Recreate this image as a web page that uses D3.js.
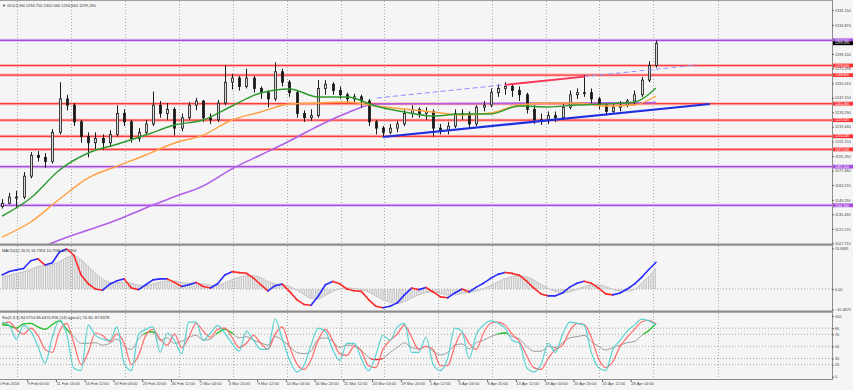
<!DOCTYPE html>
<html>
<head>
<meta charset="utf-8">
<script src="https://cdn.jsdelivr.net/npm/d3@7/dist/d3.min.js"></script>
<style>
body { margin: 0; background: #f5f5f5; }
svg { display: block; font-family: "Liberation Sans", Arial, sans-serif; }
</style>
</head>
<body>
<svg id="chart" width="853" height="390"></svg>
<script>
// GOLD H4 - candles aggregated 4 bars per candle
var firstOpen = 1143;
var closes = [1146,1152,1152,1172,1192,1190,1186,1214,1246,1240,
  1224,1210,1204,1208,1204,1212,1232,1224,1208,1214,
  1222,1240,1232,1236,1218,1228,1240,1244,1228,1226,
  1242,1262,1266,1258,1266,1256,1252,1246,1272,1262,
  1252,1232,1228,1230,1256,1260,1254,1250,1246,1248,
  1244,1224,1218,1214,1218,1222,1232,1236,1232,1234,
  1218,1216,1220,1232,1232,1222,1238,1240,1252,1256,
  1258,1254,1250,1236,1226,1225,1230,1228,1238,1250,
  1252,1252,1246,1240,1234,1238,1240,1244,1250,1264,
  1278,1299.29];
var highs = [1150,1156,1158,1176,1195,1196,1194,1217,1262,1250,
  1242,1226,1214,1214,1212,1216,1240,1236,1226,1218,
  1226,1253,1244,1242,1238,1232,1243,1247,1245,1232,
  1245,1278,1270,1268,1275,1268,1258,1254,1281,1275,
  1264,1254,1235,1236,1264,1264,1262,1258,1252,1251,
  1250,1246,1226,1220,1222,1225,1236,1240,1238,1238,
  1236,1222,1224,1236,1236,1234,1240,1244,1256,1260,
  1262,1260,1258,1252,1240,1232,1234,1234,1241,1254,
  1256,1269,1256,1248,1242,1242,1244,1246,1254,1267,
  1282,1302.06];
var lows = [1141,1145,1142,1150,1170,1186,1180,1184,1212,1235,
  1220,1204,1190,1198,1197,1200,1210,1220,1204,1205,
  1212,1220,1228,1226,1211,1215,1226,1235,1224,1222,
  1224,1240,1255,1254,1256,1252,1246,1238,1244,1258,
  1248,1228,1224,1225,1228,1250,1250,1246,1242,1242,
  1238,1220,1212,1209,1212,1214,1220,1228,1228,1226,
  1210,1212,1212,1218,1226,1218,1220,1234,1238,1248,
  1250,1248,1244,1232,1222,1221,1222,1224,1226,1236,
  1246,1248,1242,1236,1230,1232,1234,1238,1240,1248,
  1262,1276];

// moving averages sampled every 4th candle
var maIdx = [0,4,8,12,16,20,24,28,32,36,40,44,48,52,56,60,64,68,72,76,80,84,88,91];
var maGreen = [1133.8,1151.1,1177.9,1194.2,1202.6,1211.4,1221.0,1225.8,1239.2,1251.7,1255.5,1247.8,
  1247.8,1239.2,1233.5,1229.6,1231.6,1231.6,1239.2,1238.3,1240.2,1241.2,1243.1,1256.5];
var maOrange = [1113.7,1128.1,1150.1,1170.3,1181.7,1192.3,1203.8,1211.4,1225.8,1233.5,1241.1,1242.1,
  1243.1,1239.2,1236.3,1233.5,1230.6,1232.5,1240.2,1242.1,1242.1,1239.2,1240.2,1248.8];
var maPurple = [1089.8,1099.4,1110.9,1120.5,1130.1,1141.6,1152.2,1162.7,1179.0,1192.3,1205.7,1220.1,
  1232.5,1241.1,1241.3,1241.4,1241.5,1241.6,1241.8,1242.0,1242.1,1242.2,1242.3,1242.4];

var macdMain = [7.2,9.0,9.8,10.5,14.5,15.5,12.3,13.5,19.0,20.5,
  17.3,7.2,2.7,0.0,-0.6,2.5,4.2,5.2,0.5,-0.3,
  2.2,4.7,5.2,5.2,3.4,1.3,2.2,3.4,1.3,0.5,
  2.7,7.2,8.9,8.4,8.1,5.6,2.2,-0.9,1.7,2.5,
  -1.2,-5.4,-7.9,-8.3,-3.7,2.2,3.9,2.7,0.0,-0.9,
  -1.2,-5.4,-8.8,-9.6,-8.8,-7.1,-3.0,0.5,-0.3,0.8,
  -1.5,-4.0,-4.5,-2.0,0.0,-1.5,1.0,3.0,5.5,7.5,
  8.5,8.0,7.0,4.0,0.5,-2.5,-3.5,-3.5,-2.0,1.0,
  3.0,4.0,3.0,0.5,-2.5,-3.0,-2.0,0.0,2.5,6.0,
  10.0,13.7394];
var macdSignal = [6.0,7.0,8.0,8.8,10.0,11.5,12.0,12.5,14.0,16.0,
  17.0,15.0,11.5,8.0,5.0,3.5,3.2,3.6,3.0,2.0,
  1.8,2.5,3.5,4.2,4.1,3.4,2.9,2.9,2.6,2.0,
  1.9,3.2,4.8,6.0,6.8,6.8,5.8,3.8,2.6,2.3,
  1.4,-0.5,-2.8,-4.8,-5.0,-3.2,-1.2,0.2,0.6,0.3,
  -0.2,-1.5,-3.5,-5.5,-6.8,-7.3,-6.4,-4.6,-3.0,-1.8,
  -1.5,-2.2,-3.0,-3.0,-2.2,-1.8,-1.0,0.2,1.8,3.6,
  5.2,6.4,6.8,6.2,4.6,2.4,0.4,-1.2,-2.0,-1.4,
  -0.2,1.2,2.2,2.2,1.2,-0.2,-1.0,-1.0,-0.2,3.0,
  6.5,10.7986];

var stochK = [90,85,62,84,75,50,22,65,93,70,
  14,10,85,68,62,60,82,22,10,70,
  78,82,40,72,60,38,90,90,60,72,
  84,72,55,42,75,60,45,45,95,62,
  28,8,18,52,80,75,45,27,55,55,
  30,10,35,68,60,82,88,40,40,65,
  20,10,30,80,75,30,70,85,92,88,
  80,60,55,15,8,20,55,40,70,90,
  88,85,40,15,10,45,60,75,85,95,
  92,84.97];
var stochD = [88,90,78,70,80,68,45,40,75,88,
  55,20,40,72,68,58,70,55,20,35,
  68,78,62,52,70,48,65,88,75,65,
  78,80,65,48,55,68,55,45,70,82,
  50,22,12,28,60,78,60,38,35,50,
  42,18,15,45,60,70,85,65,45,50,
  45,18,18,50,72,55,45,72,88,90,
  85,70,58,35,15,12,30,45,52,75,
  88,86,65,30,15,25,50,65,78,90,
  93,86.65];
var rsiVals = [86,84,80,87,88,82,78,86,92,78,
  66,55,55,56,52,55,62,50,45,62,
  72,74,60,64,55,58,65,68,60,62,
  72,78,72,64,66,60,56,52,66,60,
  50,40,38,42,62,64,58,48,52,52,
  44,32,28,30,40,48,56,48,46,50,
  42,36,40,52,54,46,56,60,66,70,
  72,66,62,50,42,42,50,48,56,64,
  66,68,58,50,44,48,52,56,58,68,
  76,87.84];

var redLevels = [1278.0, 1268.8, 1241.466, 1225.625, 1210.2, 1197.628];
var purpleLevels = [1302.13, 1181.1, 1144.1];
var lastPrice = 1299.29;

var priceTicks = [1331.15,1316.87,1289.15,1275.29,1261.01,1247.15,1233.29,1219.43,1205.15,
  1191.29,1177.43,1163.57,1149.29,1135.43,1121.57,1107.71];
var stochTicks = [100, 80, 70, 50, 30, 20, 0];
var stochLevels = [80, 70, 50, 30, 20];
var timeLabels = ["5 Feb 2016","9 Feb 00:00","11 Feb 16:00","16 Feb 12:00","19 Feb 04:00","23 Feb 20:00",
  "26 Feb 12:00","2 Mar 04:00","4 Mar 20:00","9 Mar 12:00","14 Mar 04:00","16 Mar 20:00","21 Mar 12:00",
  "24 Mar 04:00","29 Mar 20:00","1 Apr 12:00","6 Apr 04:00","8 Apr 20:00","13 Apr 12:00","18 Apr 04:00",
  "20 Apr 20:00","25 Apr 12:00","28 Apr 04:00"];
// period separators, in H4 bar numbers
var weekBars = [6,36,66,96,126,156,186,210,240,270,300,330,360,396];

// trend lines [bar, price]
var supportLine = [[209.5, 1209.5], [391.5, 1241.1]];
var channelLine = [[206.2, 1246.9], [384.2, 1278.5]];
var channelRed = [[277.4, 1259.5], [321.9, 1267.4]];

var svg = d3.select("#chart");
var plotRight = 832;
var mainTop = 1, mainBot = 244, macdTop = 246, macdBot = 311, stTop = 313, stBot = 379;

var x = d3.scaleLinear().domain([0, 360]).range([6.5, 653.3]);
var y = d3.scaleLinear().domain([1107.71, 1331.15]).range([243.3, 10]);
var yM = d3.scaleLinear().domain([-10.4875, 20.8681]).range([309.5, 248.3]);
var yS = d3.scaleLinear().domain([0, 100]).range([376.7, 316]);
function cx(k) { return x(-2.5 + 4 * k); }

var defs = svg.append("defs");
[["clipMain", mainTop, mainBot], ["clipMacd", macdTop, macdBot], ["clipSt", stTop, stBot]].forEach(function (c) {
  defs.append("clipPath").attr("id", c[0]).append("rect")
    .attr("x", 0).attr("y", c[1]).attr("width", plotRight).attr("height", c[2] - c[1]);
});
defs.append("clipPath").attr("id", "clipHi").append("rect")
  .attr("x", 0).attr("y", stTop).attr("width", plotRight).attr("height", yS(70) - stTop);
defs.append("clipPath").attr("id", "clipLo").append("rect")
  .attr("x", 0).attr("y", yS(30)).attr("width", plotRight).attr("height", stBot - yS(30));
var hatch = defs.append("pattern").attr("id", "hatch").attr("patternUnits", "userSpaceOnUse")
  .attr("width", 1.8).attr("height", 4);
hatch.append("rect").attr("width", 0.7).attr("height", 4).attr("fill", "#b0b0b0");

svg.append("rect").attr("width", 853).attr("height", 390).attr("fill", "#f5f5f5");

// vertical dotted grid in every pane
[[mainTop, mainBot], [macdTop, macdBot], [stTop, stBot]].forEach(function (p) {
  svg.append("g").selectAll("line").data(weekBars).enter().append("line")
    .attr("x1", function (d) { return Math.round(x(d)) + 0.5; })
    .attr("x2", function (d) { return Math.round(x(d)) + 0.5; })
    .attr("y1", p[0]).attr("y2", p[1])
    .attr("stroke", "#a8a8a8").attr("stroke-width", 1).attr("stroke-dasharray", "1,2");
});

// ---- main pane
var main = svg.append("g").attr("clip-path", "url(#clipMain)");

function levelLines(vals, col, halo) {
  var g = main.append("g");
  g.selectAll(".h").data(vals).enter().append("line")
    .attr("x1", 0).attr("x2", plotRight).attr("y1", y).attr("y2", y)
    .attr("stroke", halo).attr("stroke-width", 3);
  g.selectAll(".c").data(vals).enter().append("line")
    .attr("x1", 0).attr("x2", plotRight).attr("y1", y).attr("y2", y)
    .attr("stroke", col).attr("stroke-width", 1.2);
}
levelLines(redLevels, "#ff3b3b", "#ffb4b4");
levelLines(purpleLevels, "#a64ddf", "#dcb8f0");

var ma = d3.line().x(function (d, i) { return cx(maIdx[i]); }).y(function (d) { return y(d); })
  .curve(d3.curveMonotoneX);
main.append("path").attr("d", ma(maPurple)).attr("fill", "none").attr("stroke", "#b060e8").attr("stroke-width", 1.6);

// candles
var candles = closes.map(function (c, i) {
  return { k: i, o: i ? closes[i - 1] : firstOpen, c: c, h: highs[i], l: lows[i] };
});
var cg = main.append("g");
cg.selectAll("line").data(candles).enter().append("line")
  .attr("x1", function (d) { return Math.round(cx(d.k)) + 0.5; })
  .attr("x2", function (d) { return Math.round(cx(d.k)) + 0.5; })
  .attr("y1", function (d) { return y(d.h); }).attr("y2", function (d) { return y(d.l); })
  .attr("stroke", "#1a1a1a").attr("stroke-width", 1);
cg.selectAll("rect").data(candles).enter().append("rect")
  .attr("x", function (d) { return Math.round(cx(d.k)) - 0.5; })
  .attr("width", 2)
  .attr("y", function (d) { return y(Math.max(d.o, d.c)); })
  .attr("height", function (d) { return Math.max(1, Math.abs(y(d.o) - y(d.c))); })
  .attr("fill", function (d) { return d.c >= d.o ? "#d8d8d8" : "#1a1a1a"; })
  .attr("stroke", "#1a1a1a").attr("stroke-width", 0.8);

main.append("path").attr("d", ma(maOrange)).attr("fill", "none").attr("stroke", "#ffa040").attr("stroke-width", 1.4);
main.append("path").attr("d", ma(maGreen)).attr("fill", "none").attr("stroke", "#2e9a2e").attr("stroke-width", 1.4);

var tl = d3.line().x(function (d) { return x(d[0]); }).y(function (d) { return y(d[1]); });
main.append("path").attr("d", tl(channelLine)).attr("stroke", "#8f8fff").attr("stroke-width", 1)
  .attr("stroke-dasharray", "5,3").attr("fill", "none");
main.append("path").attr("d", tl(channelRed)).attr("stroke", "#ff3355").attr("stroke-width", 1.8).attr("fill", "none");
main.append("path").attr("d", tl(supportLine)).attr("stroke", "#1f2fe0").attr("stroke-width", 2.2).attr("fill", "none");

svg.append("text").attr("x", 2).attr("y", 7).attr("font-size", 4).attr("fill", "#333")
  .text("\u25BC GOLD,H4  1294.750 1302.060 1294.660 1299.290");

// ---- MACD pane
var macd = svg.append("g").attr("clip-path", "url(#clipMacd)");
macd.append("line").attr("x1", 0).attr("x2", plotRight).attr("y1", yM(0)).attr("y2", yM(0))
  .attr("stroke", "#a8a8a8").attr("stroke-dasharray", "1,2");
var histArea = d3.area().x(function (d, i) { return cx(i); }).y0(yM(0)).y1(function (d) { return yM(d); })
  .curve(d3.curveMonotoneX);
macd.append("path").attr("d", histArea(macdSignal)).attr("fill", "url(#hatch)");
var sigLine = d3.line().x(function (d, i) { return cx(i); }).y(function (d) { return yM(d); }).curve(d3.curveMonotoneX);
macd.append("path").attr("d", sigLine(macdSignal)).attr("fill", "none").attr("stroke", "#c4c4c4").attr("stroke-width", 1);
var segs = d3.range(macdMain.length - 1);
macd.append("g").selectAll("line").data(segs).enter().append("line")
  .attr("x1", function (i) { return cx(i); }).attr("x2", function (i) { return cx(i + 1); })
  .attr("y1", function (i) { return yM(macdMain[i]); }).attr("y2", function (i) { return yM(macdMain[i + 1]); })
  .attr("stroke", function (i) { return macdMain[i + 1] >= macdMain[i] ? "#2b2bff" : "#ff2a2a"; })
  .attr("stroke-width", 1.6).attr("stroke-linecap", "round");
svg.append("text").attr("x", 2).attr("y", 252).attr("font-size", 4).attr("fill", "#333")
  .text("MACD(12,26,9) 13.7394 10.7986 13.7394");

// ---- Stoch / RSI pane
var st = svg.append("g").attr("clip-path", "url(#clipSt)");
st.selectAll(".lv").data(stochLevels).enter().append("line")
  .attr("x1", 0).attr("x2", plotRight).attr("y1", yS).attr("y2", yS)
  .attr("stroke", "#a8a8a8").attr("stroke-dasharray", "1,2");
var sl = d3.line().x(function (d, i) { return cx(i); }).y(function (d) { return yS(d); }).curve(d3.curveMonotoneX);
st.append("path").attr("d", sl(rsiVals)).attr("fill", "none").attr("stroke", "#9a9a9a").attr("stroke-width", 1);
st.append("path").attr("d", sl(rsiVals)).attr("fill", "none").attr("stroke", "#22c822").attr("stroke-width", 1.3)
  .attr("clip-path", "url(#clipHi)");
st.append("path").attr("d", sl(rsiVals)).attr("fill", "none").attr("stroke", "#ff1e1e").attr("stroke-width", 1.3)
  .attr("clip-path", "url(#clipLo)");
st.append("path").attr("d", sl(stochD)).attr("fill", "none").attr("stroke", "#ff6a6a").attr("stroke-width", 1.2);
st.append("path").attr("d", sl(stochK)).attr("fill", "none").attr("stroke", "#5ad2d2").attr("stroke-width", 1.2);
svg.append("text").attr("x", 2).attr("y", 319).attr("font-size", 4).attr("fill", "#333")
  .text("Sto(5,3,3) 84.9714 86.6470  RSI (14) typical | 70.30: 87.8378");

// ---- frames
svg.append("line").attr("x1", 0).attr("x2", plotRight).attr("y1", 0.5).attr("y2", 0.5).attr("stroke", "#a0a0a0");
[mainBot, macdBot].forEach(function (b) {
  svg.append("rect").attr("x", 0).attr("y", b - 0.5).attr("width", plotRight + 1).attr("height", 2.2).attr("fill", "#8c8c8c");
});
svg.append("line").attr("x1", 0).attr("x2", plotRight).attr("y1", stBot + 0.5).attr("y2", stBot + 0.5).attr("stroke", "#8c8c8c");
svg.append("line").attr("x1", plotRight + 0.5).attr("x2", plotRight + 0.5).attr("y1", 0).attr("y2", stBot + 1).attr("stroke", "#8c8c8c");

// ---- right axes
function styleAxis(g) {
  g.select(".domain").remove();
  g.selectAll("line").attr("stroke", "#666");
  g.selectAll("text").attr("font-size", 3.8).attr("fill", "#444").attr("x", 3);
}
svg.append("g").attr("transform", "translate(" + plotRight + ",0)")
  .call(d3.axisRight(y).tickValues(priceTicks).tickFormat(d3.format(".3f")).tickSize(2)).call(styleAxis);
svg.append("g").attr("transform", "translate(" + plotRight + ",0)")
  .call(d3.axisRight(yM).tickValues([20.8681, 0, -10.4875])
    .tickFormat(function (d) { return d === 0 ? "0.00" : d3.format(".4f")(d); }).tickSize(2)).call(styleAxis);
svg.append("g").attr("transform", "translate(" + plotRight + ",0)")
  .call(d3.axisRight(yS).tickValues(stochTicks).tickFormat(d3.format("d")).tickSize(2)).call(styleAxis);

function priceBox(v, fill) {
  svg.append("rect").attr("x", plotRight + 1).attr("y", y(v) - 1.9).attr("width", 20).attr("height", 3.8).attr("fill", fill);
  svg.append("text").attr("x", plotRight + 3).attr("y", y(v) + 1.2).attr("font-size", 3.4).attr("fill", "#fff")
    .text(d3.format(".3f")(v));
}
redLevels.forEach(function (v) { priceBox(v, "#ff3030"); });
purpleLevels.forEach(function (v) { priceBox(v, "#a64ddf"); });
priceBox(lastPrice, "#000");

// ---- time axis
var tAxis = d3.axisBottom(x).tickValues(timeLabels.map(function (d, i) { return -4.5 + 16 * i; }))
  .tickFormat(function (d, i) { return timeLabels[i]; }).tickSize(2);
var tg = svg.append("g").attr("transform", "translate(0," + (stBot + 1) + ")").call(tAxis);
tg.select(".domain").remove();
tg.selectAll("line").attr("stroke", "#666");
tg.selectAll("text").attr("font-size", 4).attr("fill", "#444").attr("text-anchor", "start").attr("dy", "0.5em").attr("y", 3);
</script>
</body>
</html>
